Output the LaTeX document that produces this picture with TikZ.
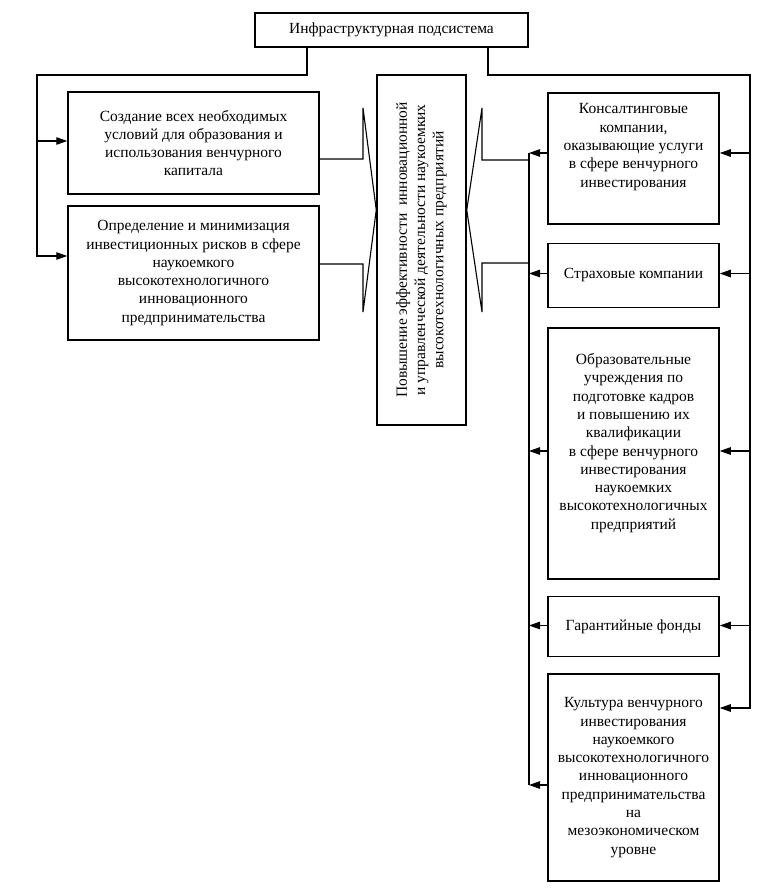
\documentclass[tikz,border=0pt]{standalone}
\usepackage{fontspec}
\setmainfont{Liberation Serif}
\usetikzlibrary{positioning,arrows.meta}

\begin{document}
\begin{tikzpicture}[x=1pt,y=-1pt,line width=1.1pt,
   >={Triangle[length=11pt,width=7.5pt]},
   box/.style={draw,line width=1.5pt,align=center,inner sep=2pt,
      font=\fontsize{15.5}{18.3}\selectfont}]
   \useasboundingbox (0,0) rectangle (770,890);
   \node[box,minimum width=273pt,minimum height=34pt] (s_0) at (391.5,30) {Инфраструктурная подсистема};
   \node[box,minimum width=251pt,minimum height=102pt] (l_1) at (193.5,143)
      {Создание всех необходимых\\условий для образования и\\использования венчурного\\капитала};
   \node[box,minimum width=251pt,minimum height=134pt] (l_2) at (193.5,273)
      {Определение и минимизация\\инвестиционных рисков в сфере\\наукоемкого\\высокотехнологичного\\инновационного\\предпринимательства};
   \node[box,minimum width=89pt,minimum height=350pt] (c) at (421.5,250)
      {\rotatebox{90}{\begin{tabular}{@{}c@{}}Повышение эффективности\ \ инновационной\\и управленческой деятельности наукоемких\\высокотехнологичных предприятий\end{tabular}}};
   \node[box,minimum width=171pt,minimum height=131pt] (r_1) at (633.5,158.5)
      {Консалтинговые\\компании,\\оказывающие услуги\\в сфере венчурного\\инвестирования\\[8pt]\mbox{}};
   \node[box,minimum width=171pt,minimum height=64pt] (r_2) [below=18pt of r_1] {Страховые компании};
   \node[box,minimum width=171pt,minimum height=251pt] (r_3) [below=19pt of r_2]
      {Образовательные\\учреждения по\\подготовке кадров\\и повышению их\\квалификации\\в сфере венчурного\\инвестирования\\наукоемких\\высокотехнологичных\\предприятий\\[6pt]\mbox{}};
   \node[box,minimum width=171pt,minimum height=60pt] (r_4) [below=16pt of r_3] {Гарантийные фонды};
   \node[box,minimum width=171pt,minimum height=207pt] (r_5) [below=16pt of r_4]
      {Культура венчурного\\инвестирования\\наукоемкого\\высокотехнологичного\\инновационного\\предпринимательства\\на\\мезоэкономическом\\уровне};

   \coordinate (lbus) at (37,75);
   \coordinate (rbus) at (750,75);
   \coordinate (ibus) at (529,153);
   \coordinate (ibus_1) at (529,160);
   \coordinate (ibus_2) at (529,263);
   \coordinate (lt) at (363,108);
   \coordinate (lb) at (363,312);
   \coordinate (rt) at (482,108);
   \coordinate (rb) at (482,312);
   \coordinate (la) at ([yshift=40pt]c.west);
   \coordinate (ra) at ([yshift=40pt]c.east);
   \coordinate (r_1w) at ([yshift=5.5pt]r_1.west);
   \coordinate (r_2w) at ([yshift=2pt]r_2.west);
   \coordinate (r_3w) at ([yshift=2.5pt]r_3.west);
   \coordinate (r_4w) at ([yshift=1pt]r_4.west);
   \coordinate (r_5w) at ([yshift=-7.5pt]r_5.west);

   \draw[->] ([xshift=-84.5pt]s_0.south) |- (lbus) |- ([yshift=17pt]l_2.west);
   \draw[->] (lbus) |- ([yshift=2pt]l_1.west);
   \draw[->] ([xshift=96.5pt]s_0.south) |- (rbus) |- ([yshift=69.5pt]r_5.east);
   \draw[->] (rbus) |- ([yshift=5.5pt]r_1.east);
   \draw[->] (rbus) |- ([yshift=2pt]r_2.east);
   \draw[->] (rbus) |- ([yshift=2.5pt]r_3.east);
   \draw[->] (rbus) |- ([yshift=1pt]r_4.east);

   \draw (ibus) -- (ibus |- r_5w);
   \foreach \w in {r_1w,r_2w,r_3w,r_4w,r_5w}
      \draw[->] (\w) -- (ibus |- \w);

   \draw ([yshift=-16pt]l_1.east) -| (lt) -- (la) -- (lb) |- ([yshift=9pt]l_2.east);
   \draw (ibus_1) -| (rt) -- (ra) -- (rb) |- (ibus_2);
\end{tikzpicture}
\end{document}
